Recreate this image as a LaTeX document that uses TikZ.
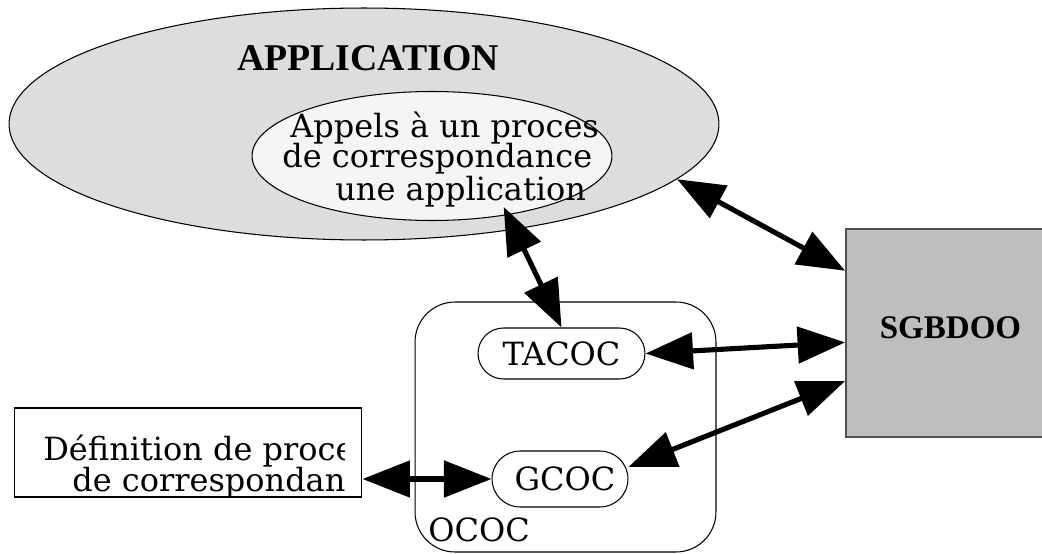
\documentclass[tikz,border=0pt]{standalone}
\usepackage{fontspec}
\setmainfont{DejaVu Serif}
\newfontfamily\titlefont{Liberation Serif}
\usetikzlibrary{arrows.meta}
\usetikzlibrary{calc}
\usetikzlibrary{shapes.geometric}
\definecolor{appgray}{RGB}{221,221,221}
\definecolor{callgray}{RGB}{245,245,245}
\definecolor{dbgray}{RGB}{190,190,190}
\definecolor{dbedge}{RGB}{80,80,80}
\tikzset{
    txt/.style={font=\fontsize{18.2}{17}\selectfont, inner sep=0pt},
    pill/.style={draw, line width=0.6pt, fill=white, inner sep=0pt, font=\fontsize{18.2}{17}\selectfont},
    biarrow/.style={line width=2.9pt, {Triangle[length=0.95cm,width=0.72cm]}-{Triangle[length=0.95cm,width=0.72cm]}},
}

\begin{document}
\begin{tikzpicture}[x=0.02cm, y=-0.02cm]
        \useasboundingbox (0,0) rectangle (1042,554);

        % Draw application
        \node[ellipse, draw, line width=0.6pt, fill=appgray, minimum width=14.2cm, minimum height=4.64cm, inner sep=0pt] (app) at (364,124) {};
        \node[font=\titlefont\bfseries\fontsize{21.5}{22}\selectfont, inner sep=0pt] (apptitle) at (368,58.5) {APPLICATION};
        \node[ellipse, draw, line width=0.6pt, fill=callgray, minimum width=7.2cm, minimum height=2.58cm, inner sep=0pt] (calls) at (432,156) {};
        \begin{scope}
            \clip (0,0) rectangle (602,554);
            \node[txt, anchor=base west] (callsa) at (290,138) {Appels à un proces};
            \node[txt, anchor=base west] (callsb) at (282,168) {de correspondance};
            \node[txt, anchor=base west] (callsc) at (335,200) {une application};
        \end{scope}

        % Draw OCOC
        \node[draw, line width=0.6pt, rounded corners=0.8cm, minimum width=6.02cm, minimum height=5cm] (ococ) at (565.5,427) {};
        \node[txt, anchor=base west] (ocoslabel) at (428,541) {OCOC};
        \node[pill, rounded corners=0.51cm, minimum width=3.34cm, minimum height=1.02cm] (tacoc) at (561.5,353.5) {TACOC};
        \node[pill, rounded corners=0.56cm, minimum width=2.72cm, minimum height=1.12cm] (gcoc) at (560,479) {\hspace{0.2cm}GCOC};

        % Draw SGBDOO
        \node[draw=dbedge, line width=1pt, fill=dbgray, minimum width=4.28cm, minimum height=4.16cm, font=\titlefont\bfseries\fontsize{18.8}{19}\selectfont] (sgbd) at (953,333) {\raisebox{0.2cm}{\hspace{-0.1cm}SGBDOO}};

        % Draw definition
        \node[draw, line width=0.6pt, minimum width=6.96cm, minimum height=1.78cm] (def) at (188,452.5) {};
        \begin{scope}
            \clip (0,0) rectangle (344,554);
            \node[txt, anchor=base west] (defa) at (43,460) {Définition de proce};
            \node[txt, anchor=base west] (defb) at (72,491) {de correspondan};
        \end{scope}

        % Draw arrows
        \draw[biarrow, shorten <=-0.18cm] (calls.-38) -- (tacoc.north);
        \draw[biarrow] (app.-10) -- (sgbd.150.7);
        \draw[biarrow] (tacoc.east) -- (sgbd.185);
        \draw[biarrow] (gcoc.10) -- (sgbd.204);
        \draw[biarrow] (def.east |- gcoc.west) -- (gcoc.west);
\end{tikzpicture}
\end{document}
